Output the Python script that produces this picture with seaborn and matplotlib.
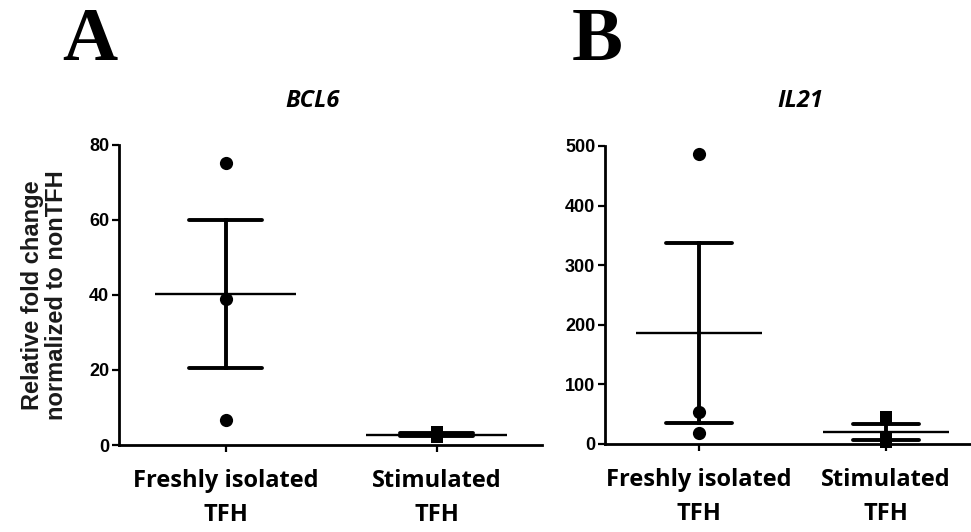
import numpy as np
import pandas as pd
import matplotlib
matplotlib.use("Agg")
import matplotlib.pyplot as plt
import seaborn as sns

# ---- data ----
groups = ["Freshly isolated\nTFH", "Stimulated\nTFH"]
bcl6_fresh = [75.2, 39.0, 6.7]
bcl6_stim = [3.6, 2.6, 2.2]
il21_fresh = [487.0, 54.0, 18.5]
il21_stim = [46.0, 9.0, 3.0]
bcl6_ticks = [0, 20, 40, 60, 80]
il21_ticks = [0, 100, 200, 300, 400, 500]

sns.set_style("ticks")
plt.rcParams["font.family"] = ["Liberation Sans", "DejaVu Sans"]
plt.rcParams["text.color"] = "black"
plt.rcParams["axes.labelcolor"] = "black"
plt.rcParams["xtick.color"] = "black"
plt.rcParams["ytick.color"] = "black"

fig = plt.figure(figsize=(9.71, 5.32), dpi=100)
W, H = 971, 532


def ax_px(x0, x1, y0, y1):
    return fig.add_axes([x0 / W, 1 - y1 / H, (x1 - x0) / W, (y1 - y0) / H])


axA = ax_px(119, 542, 145, 445)
axB = ax_px(605, 971, 146, 444)


def panel(ax, fresh, stim, ticks, xlim):
    df = pd.DataFrame({
        "group": [groups[0]] * len(fresh) + [groups[1]] * len(stim),
        "value": list(fresh) + list(stim),
    })
    # mean +- SEM error bars
    sns.pointplot(data=df, x="group", y="value", order=groups, errorbar="se",
                  capsize=0.35, linestyle="none", marker="", color="black",
                  err_kws={"linewidth": 2.8}, ax=ax)
    # mean line
    means = df.groupby("group", sort=False)["value"].mean().reindex(groups)
    xs = np.arange(len(groups))
    ax.hlines(means.values, xs - 0.335, xs + 0.335, color="black", linewidth=1.7,
              zorder=4)
    # individual points
    sns.stripplot(data=df[df.group == groups[0]], x="group", y="value",
                  order=groups, jitter=False, marker="o", size=9.5,
                  color="black", ax=ax, zorder=5)
    sns.stripplot(data=df[df.group == groups[1]], x="group", y="value",
                  order=groups, jitter=False, marker="s", size=8,
                  color="black", ax=ax, zorder=5)
    ax.set_ylim(ticks[0], ticks[-1])
    ax.set_xlim(*xlim)
    ax.set_yticks(ticks)
    ax.set_yticklabels([str(t) for t in ticks], fontsize=13, fontweight="bold",
                       family=["Liberation Sans"], color="black")
    ax.set_xticks(xs)
    ax.set_xticklabels(groups, fontsize=17, fontweight="bold",
                       family=["Open Sans", "DejaVu Sans"], linespacing=1.6,
                       color="black")
    ax.set_xlabel("")
    ax.set_ylabel("")
    sns.despine(ax=ax)
    for s in ["left", "bottom"]:
        ax.spines[s].set_linewidth(2.0)
        ax.spines[s].set_color("black")
    ax.tick_params(axis="both", length=5, width=1.6, color="black", direction="out")
    ax.tick_params(axis="x", pad=12)
    ax.tick_params(axis="y", pad=2)
    for c in ax.collections:
        c.set_clip_on(False)
    ax.set_facecolor("none")


panel(axA, bcl6_fresh, bcl6_stim, bcl6_ticks, (-0.505, 1.5))
panel(axB, il21_fresh, il21_stim, il21_ticks, (-0.503, 1.455))

axA.set_ylabel("Relative fold change\nnormalized to nonTFH", fontsize=17,
               fontweight="bold", color="#1a1a1a", linespacing=1.1, labelpad=15)

fig.text(313 / W, 1 - 101 / H, "BCL6", fontsize=17, fontweight="bold",
         fontstyle="italic", family=["Open Sans", "DejaVu Sans"], ha="center",
         va="center")
fig.text(800 / W, 1 - 101 / H, "IL21", fontsize=17, fontweight="bold",
         fontstyle="italic", family=["Open Sans", "DejaVu Sans"], ha="center",
         va="center")

for lbl, x in [("A", 90), ("B", 597)]:
    fig.text(x / W, 1 - 42 / H, lbl, fontsize=55, fontweight="bold",
             family=["Liberation Serif", "DejaVu Serif"], ha="center", va="center")

fig.savefig("out.png", dpi=100)
